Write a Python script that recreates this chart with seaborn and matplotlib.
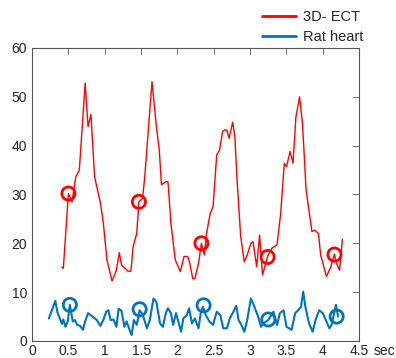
import matplotlib
matplotlib.use("Agg")
import matplotlib.pyplot as plt
import seaborn as sns
import pandas as pd

# 3D-ECT trace (sec, value)
ect_t = [0.41, 0.43, 0.50, 0.55, 0.60, 0.65, 0.73, 0.77, 0.81, 0.86, 0.94, 0.98,
         1.03, 1.10, 1.16, 1.20, 1.23, 1.32, 1.36, 1.39, 1.44, 1.47, 1.52, 1.55,
         1.65, 1.71, 1.75, 1.78, 1.84, 1.87, 1.91, 1.97, 2.04, 2.09, 2.14, 2.17,
         2.21, 2.24, 2.29, 2.33, 2.37, 2.40, 2.45, 2.49, 2.54, 2.58, 2.62, 2.65,
         2.68, 2.71, 2.76, 2.79, 2.82, 2.87, 2.92, 2.96, 3.01, 3.04, 3.09, 3.13,
         3.17, 3.24, 3.30, 3.37, 3.42, 3.47, 3.50, 3.55, 3.59, 3.63, 3.68, 3.72,
         3.77, 3.85, 3.89, 3.94, 3.97, 4.05, 4.11, 4.16, 4.18, 4.23, 4.27]
ect_v = [15.1, 14.9, 30.2, 28.5, 33.6, 35.0, 52.8, 43.9, 46.4, 33.6, 28.3, 24.2,
         16.6, 12.3, 14.5, 18.1, 15.6, 14.3, 14.3, 19.3, 22.0, 28.5, 29.2, 33.6,
         53.1, 43.9, 39.1, 32.0, 32.6, 32.6, 24.1, 16.6, 14.2, 17.3, 17.3, 15.9,
         12.8, 12.8, 15.9, 20.0, 17.6, 22.0, 26.1, 27.5, 38.1, 39.1, 42.9, 43.2,
         43.2, 41.5, 44.8, 41.8, 33.0, 21.4, 16.2, 17.6, 20.0, 20.3, 15.2, 21.7,
         13.5, 17.3, 19.0, 19.7, 26.1, 36.4, 35.7, 38.8, 36.4, 45.9, 50.0, 44.6,
         30.9, 22.4, 22.7, 22.0, 17.6, 13.2, 15.2, 17.8, 16.2, 14.5, 20.8]

# Rat heart trace
rat_t = [0.23, 0.32, 0.35, 0.39, 0.41, 0.43, 0.46, 0.49, 0.52, 0.56, 0.59, 0.62,
         0.66, 0.70, 0.73, 0.77, 0.84, 0.89, 0.94, 0.98, 1.02, 1.05, 1.08, 1.12,
         1.16, 1.19, 1.23, 1.27, 1.30, 1.34, 1.37, 1.40, 1.44, 1.48, 1.52, 1.58,
         1.62, 1.67, 1.71, 1.76, 1.80, 1.84, 1.87, 1.91, 1.94, 1.98, 2.05, 2.08,
         2.13, 2.16, 2.20, 2.24, 2.29, 2.32, 2.35, 2.39, 2.44, 2.49, 2.54, 2.59,
         2.63, 2.68, 2.72, 2.77, 2.81, 2.84, 2.88, 2.92, 2.96, 3.01, 3.04, 3.11,
         3.15, 3.18, 3.25, 3.32, 3.37, 3.41, 3.46, 3.50, 3.57, 3.62, 3.66, 3.70,
         3.73, 3.76, 3.81, 3.86, 3.90, 3.95, 4.00, 4.04, 4.09, 4.12, 4.16, 4.18,
         4.21]
rat_v = [4.6, 8.2, 5.8, 4.3, 3.5, 4.4, 2.9, 4.0, 7.4, 4.0, 4.3, 3.3,
         3.1, 2.3, 4.0, 5.7, 4.9, 4.3, 3.1, 4.3, 6.0, 6.3, 4.3, 4.4,
         2.9, 6.6, 6.2, 2.9, 4.0, 2.3, 1.2, 4.3, 3.3, 6.3, 5.5, 2.6,
         4.3, 8.7, 8.0, 3.6, 2.9, 5.7, 6.7, 5.7, 3.3, 5.7, 1.9, 4.6,
         5.3, 6.7, 3.6, 4.6, 2.6, 5.7, 7.0, 5.3, 4.0, 3.3, 6.0, 5.3,
         2.6, 2.6, 4.6, 6.0, 7.2, 4.3, 3.3, 1.9, 4.3, 8.7, 7.7, 5.0,
         2.9, 3.6, 4.3, 6.0, 3.3, 5.7, 6.3, 2.9, 2.3, 5.7, 6.3, 7.0,
         10.1, 7.0, 3.6, 1.9, 4.3, 6.3, 5.7, 4.3, 2.6, 3.3, 6.0, 7.4,
         5.0]

# circled points
ect_mark_t = [0.50, 1.47, 2.33, 3.24, 4.16]
ect_mark_v = [30.2, 28.5, 20.0, 17.2, 17.7]
rat_mark_t = [0.52, 1.48, 2.36, 3.25, 4.19]
rat_mark_v = [7.4, 6.5, 7.3, 4.4, 5.0]

red = "#ff0000"
blue = "#0072bd"

sns.set_style("white")
plt.rcParams["font.family"] = ["Arial", "Liberation Sans", "DejaVu Sans"]

fig = plt.figure(figsize=(3.96, 3.58), dpi=100)
ax = fig.add_axes([0.081, 0.0475, 0.826, 0.8185])

ect = pd.DataFrame({"t": ect_t, "v": ect_v})
rat = pd.DataFrame({"t": rat_t, "v": rat_v})
sns.lineplot(data=ect, x="t", y="v", color=red, linewidth=1.0, ax=ax, label="3D- ECT", legend=False)
sns.lineplot(data=rat, x="t", y="v", color=blue, linewidth=1.5, ax=ax, label="Rat heart", legend=False)
ax.scatter(ect_mark_t, ect_mark_v, s=90, facecolors="none", edgecolors=red, linewidths=2, zorder=3)
ax.scatter(rat_mark_t, rat_mark_v, s=90, facecolors="none", edgecolors=blue, linewidths=2, zorder=3)

ax.set_xlim(0, 4.5)
ax.set_ylim(0, 60)
ax.set_xticks([0, 0.5, 1, 1.5, 2, 2.5, 3, 3.5, 4, 4.5])
ax.set_xticklabels(["0", "0.5", "1", "1.5", "2", "2.5", "3", "3.5", "4", "4.5"])
ax.set_yticks(range(0, 61, 10))
ax.set_xlabel("")
ax.set_ylabel("")
ax.tick_params(direction="in", length=4, width=0.6, color="#555555", labelsize=10,
               top=True, right=True, labelcolor="#222222")
ax.tick_params(axis="x", pad=2)
for s in ax.spines.values():
    s.set_color("#555555")
    s.set_linewidth(0.8)

fig.text(0.972, 0.02, "sec", fontsize=10, color="#222222", ha="center", va="center")

handles = ax.get_lines()[:2]
leg = fig.legend(handles, ["3D- ECT", "Rat heart"], loc="upper left",
                 bbox_to_anchor=(0.637, 1.0), frameon=False,
                 fontsize=10.5, handlelength=2.3, handletextpad=0.45, labelspacing=0.4,
                 borderaxespad=0.3)
for line in leg.get_lines():
    line.set_linewidth(2)

fig.savefig("out.png", dpi=100)
